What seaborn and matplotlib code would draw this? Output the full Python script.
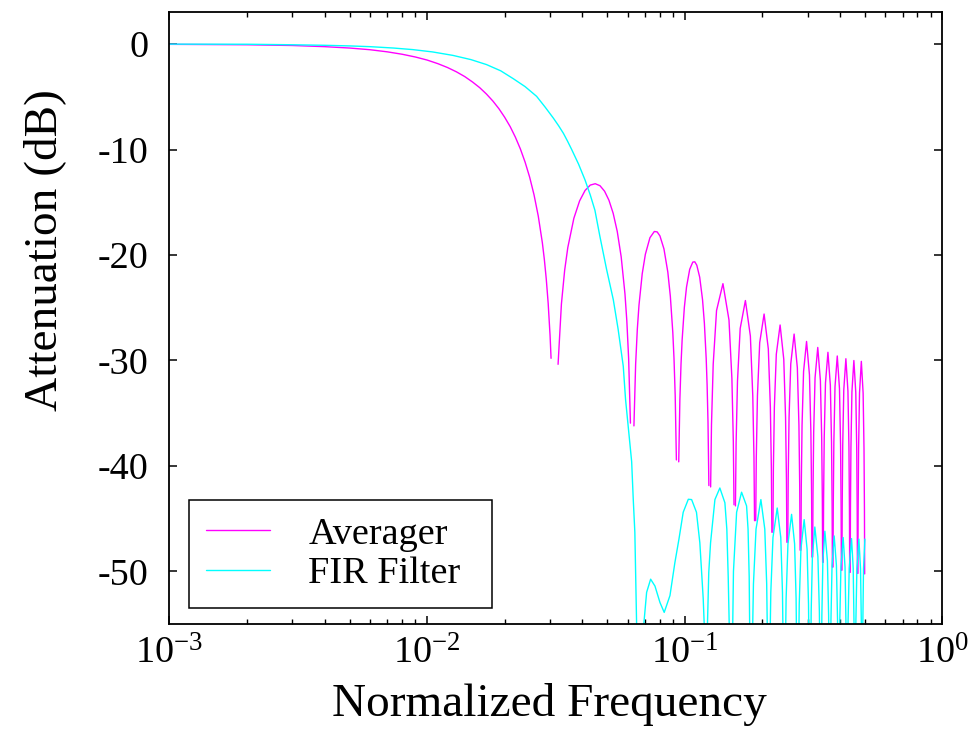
import numpy as np
import pandas as pd
import matplotlib
matplotlib.use("Agg")
import matplotlib.pyplot as plt
from matplotlib.lines import Line2D
from matplotlib.ticker import NullFormatter
import seaborn as sns

nan = float("nan")

# ---------------- data ----------------
series_names = ["Averager", "FIR Filter"]
series_colors = ["#ff00ff", "#00ffff"]

# Averager: NaN marks the exact nulls where the plotted line breaks
avg_freq = [
    0.001, 0.002, 0.003, 0.004, 0.005, 0.006, 0.007, 0.008, 0.009, 0.010,
    0.011, 0.012, 0.013, 0.014, 0.015, 0.016, 0.017, 0.018, 0.019, 0.020,
    0.021, 0.022, 0.023, 0.024, 0.025, 0.026, 0.027, 0.028, 0.0285, 0.029,
    0.0295, 0.030, 0.03027,
    0.03125,
    0.032227, 0.033203, 0.034180, 0.035156, 0.037109, 0.039063, 0.041016,
    0.042969, 0.044922, 0.046875, 0.048828, 0.050781, 0.052734, 0.054688,
    0.056641, 0.058594, 0.059570, 0.060547, 0.061523,
    0.0625,
    0.063477, 0.064453, 0.065430, 0.066406, 0.068359, 0.070313, 0.073242,
    0.076172, 0.078125, 0.080078, 0.083008, 0.085938, 0.087891, 0.089844,
    0.090820, 0.091797, 0.092773,
    0.09375,
    0.094727, 0.095703, 0.096680, 0.097656, 0.099609, 0.101563, 0.104492,
    0.107422, 0.109375, 0.111328, 0.114258, 0.117188, 0.119141, 0.121094,
    0.122070, 0.123047, 0.124023,
    0.125,
    0.12598, 0.12695, 0.12891, 0.13281, 0.14063, 0.14844, 0.15234, 0.15430, 0.15527,
    0.15625,
    0.15723, 0.15820, 0.16016, 0.16406, 0.17188, 0.17969, 0.18359, 0.18555, 0.18652,
    0.1875,
    0.18848, 0.18945, 0.19141, 0.19531, 0.20313, 0.21094, 0.21484, 0.21680, 0.21777,
    0.21875,
    0.21973, 0.22070, 0.22266, 0.22656, 0.23438, 0.24219, 0.24609, 0.24805, 0.24902,
    0.25,
    0.25098, 0.25195, 0.25391, 0.25781, 0.26563, 0.27344, 0.27734, 0.27930, 0.28027,
    0.28125,
    0.28223, 0.28320, 0.28516, 0.28906, 0.29688, 0.30469, 0.30859, 0.31055, 0.31152,
    0.3125,
    0.31348, 0.31445, 0.31641, 0.32031, 0.32813, 0.33594, 0.33984, 0.34180, 0.34277,
    0.34375,
    0.34473, 0.34570, 0.34766, 0.35156, 0.35938, 0.36719, 0.37109, 0.37305, 0.37402,
    0.375,
    0.37598, 0.37695, 0.37891, 0.38281, 0.39063, 0.39844, 0.40234, 0.40430, 0.40527,
    0.40625,
    0.40723, 0.40820, 0.41016, 0.41406, 0.42188, 0.42969, 0.43359, 0.43555, 0.43652,
    0.4375,
    0.43848, 0.43945, 0.44141, 0.44531, 0.45313, 0.46094, 0.46484, 0.46680, 0.46777,
    0.46875,
    0.46973, 0.47070, 0.47266, 0.47656, 0.48438, 0.49219, 0.49609, 0.49805, 0.49902,
]
avg_db = [
    -0.02, -0.06, -0.13, -0.24, -0.37, -0.53, -0.73, -0.96, -1.22, -1.51,
    -1.85, -2.22, -2.63, -3.08, -3.59, -4.13, -4.74, -5.40, -6.13, -6.94,
    -7.82, -8.82, -9.93, -11.19, -12.62, -14.30, -16.31, -18.83, -20.40, -22.28,
    -24.59, -27.63, -29.80,
    nan,
    -30.37, -24.65, -21.45, -19.29, -16.52, -14.87, -13.88,
    -13.37, -13.24, -13.43, -13.95, -14.81, -16.05, -17.77,
    -20.17, -23.70, -26.24, -29.83, -35.95,
    nan,
    -36.21, -30.37, -27.04, -24.77, -21.78, -19.93, -18.36,
    -17.77, -17.81, -18.19, -19.42, -21.63, -23.92, -27.34,
    -29.84, -33.38, -39.44,
    nan,
    -39.62, -33.73, -30.36, -28.05, -24.97, -23.04, -21.36,
    -20.67, -20.65, -20.97, -22.11, -24.24, -26.47, -29.84,
    -32.31, -35.83, -41.87,
    nan,
    -42.00, -36.08, -30.36, -25.27, -22.72, -26.17, -31.71, -37.67, -43.69,
    nan,
    -43.80, -37.80, -31.95, -26.97, -24.32, -27.69, -33.35, -39.20, -45.20,
    nan,
    -45.20, -39.20, -33.35, -28.32, -25.60, -28.90, -34.45, -40.30, -46.30,
    nan,
    -46.30, -40.30, -34.45, -29.41, -26.64, -29.89, -35.40, -41.25, -47.25,
    nan,
    -47.25, -41.25, -35.40, -30.32, -27.50, -30.70, -36.15, -42.00, -48.00,
    nan,
    -48.00, -42.00, -36.15, -31.05, -28.20, -31.37, -36.80, -42.65, -48.65,
    nan,
    -48.65, -42.65, -36.80, -31.65, -28.77, -31.91, -37.30, -43.15, -49.15,
    nan,
    -49.15, -43.15, -37.30, -32.14, -29.23, -32.34, -37.75, -43.60, -49.60,
    nan,
    -49.60, -43.60, -37.75, -32.51, -29.58, -32.67, -38.05, -43.90, -49.90,
    nan,
    -49.90, -43.90, -38.05, -32.80, -29.84, -32.90, -38.25, -44.10, -50.10,
    nan,
    -50.10, -44.10, -38.25, -32.99, -30.01, -33.05, -38.35, -44.20, -50.20,
    nan,
    -50.20, -44.20, -38.35, -33.09, -30.09, -33.11, -38.40, -44.25, -50.25,
]

# FIR filter
fir_freq = [
    0.001, 0.002, 0.003, 0.004, 0.005, 0.006, 0.0074, 0.0088, 0.0105, 0.0126,
    0.0148, 0.0170, 0.0193, 0.0216, 0.0240, 0.0266, 0.0287, 0.0309, 0.0324, 0.0338,
    0.0351, 0.0364, 0.0387, 0.0410, 0.0430, 0.0448, 0.0468, 0.0497, 0.0528, 0.0551,
    0.0577, 0.0589, 0.0612, 0.0622, 0.0631, 0.0640, 0.0650, 0.0656, 0.0665,
    0.0680, 0.0694, 0.0711, 0.0737, 0.0766, 0.0801, 0.0832, 0.0876, 0.0915, 0.0949,
    0.0986, 0.1032, 0.1063, 0.1110, 0.1144, 0.1179, 0.1189, 0.1200,
    0.1213, 0.1239, 0.1259, 0.1309, 0.1368, 0.1431, 0.1456, 0.1474, 0.1487, 0.1500, 0.1514,
    0.1526, 0.1545, 0.1589, 0.1661, 0.1737, 0.1760, 0.1778, 0.1790, 0.1805,
    0.1819, 0.1847, 0.1890, 0.1974, 0.2044, 0.2079, 0.2103, 0.2114,
    0.2128, 0.2157, 0.2199, 0.2284, 0.2358, 0.2394, 0.2419, 0.2431,
    0.2444, 0.2473, 0.2514, 0.2597, 0.2668, 0.2704, 0.2728, 0.2739,
    0.2752, 0.2781, 0.2823, 0.2906, 0.2983, 0.3021, 0.3047, 0.3059,
    0.3070, 0.3094, 0.3128, 0.3197, 0.3285, 0.3329, 0.3359, 0.3373,
    0.3383, 0.3404, 0.3435, 0.3497, 0.3577, 0.3616, 0.3643, 0.3656,
    0.3668, 0.3692, 0.3728, 0.3800, 0.3877, 0.3916, 0.3942, 0.3954,
    0.3967, 0.3995, 0.4036, 0.4118, 0.4187, 0.4221, 0.4244, 0.4255,
    0.4270, 0.4301, 0.4347, 0.4438, 0.4504, 0.4537, 0.4559, 0.4570,
    0.4584, 0.4612, 0.4655, 0.4739, 0.4809, 0.4844, 0.4868, 0.4879,
    0.4889, 0.4909, 0.4939, 0.5000,
]
fir_db = [
    0.00, -0.01, -0.06, -0.11, -0.17, -0.24, -0.37, -0.52, -0.74, -1.07,
    -1.47, -1.94, -2.53, -3.28, -4.03, -4.95, -5.97, -7.02, -7.75, -8.46,
    -9.22, -10.00, -11.38, -12.88, -14.33, -15.76, -18.20, -21.35, -24.25, -27.02,
    -30.54, -33.70, -37.80, -39.60, -43.20, -46.30, -54.90, -61.00, -72.00,
    -60.50, -54.90, -52.00, -50.75, -51.40, -52.96, -53.90, -52.30, -49.20, -46.96,
    -44.40, -43.17, -43.20, -44.40, -47.30, -52.60, -54.90, -70.00,
    -59.10, -50.10, -47.30, -43.20, -42.10, -43.50, -46.00, -50.50, -54.90, -60.00, -70.00,
    -59.50, -50.00, -44.40, -42.50, -43.80, -46.00, -50.50, -58.00, -70.00,
    -60.20, -51.20, -46.00, -43.20, -46.00, -51.20, -60.20, -70.00,
    -61.00, -52.00, -46.80, -44.00, -46.80, -52.00, -61.00, -70.00,
    -61.60, -52.60, -47.40, -44.60, -47.40, -52.60, -61.60, -70.00,
    -62.10, -53.10, -47.90, -45.10, -47.90, -53.10, -62.10, -70.00,
    -62.80, -53.80, -48.60, -45.80, -48.60, -53.80, -62.80, -70.00,
    -63.20, -54.20, -49.00, -46.20, -49.00, -54.20, -63.20, -70.00,
    -63.65, -54.65, -49.45, -46.65, -49.45, -54.65, -63.65, -70.00,
    -63.80, -54.80, -49.60, -46.80, -49.60, -54.80, -63.80, -70.00,
    -63.90, -54.90, -49.70, -46.90, -49.70, -54.90, -63.90, -70.00,
    -63.95, -54.95, -49.75, -46.95, -49.75, -54.95, -63.95, -70.00,
    -63.95, -54.95, -49.75, -46.95,
]

x_ticks = [1e-3, 1e-2, 1e-1, 1e0]
x_tick_labels = [r"$10^{-3}$", r"$10^{-2}$", r"$10^{-1}$", r"$10^{0}$"]
x_minor_ticks = [m * d for d in (1e-3, 1e-2, 1e-1) for m in range(2, 10)]
y_ticks = [-50, -40, -30, -20, -10, 0]
y_tick_labels = ["-50", "-40", "-30", "-20", "-10", "0"]
x_label = "Normalized Frequency"
y_label = "Attenuation (dB)"

# ---------------- style ----------------
sns.set_theme(style="ticks")
plt.rcParams.update({
    "font.family": ["Liberation Serif", "DejaVu Serif"],
    "mathtext.fontset": "custom",
    "mathtext.rm": "Liberation Serif",
    "mathtext.it": "Liberation Serif:italic",
    "mathtext.bf": "Liberation Serif:bold",
    "axes.unicode_minus": False,
    "axes.edgecolor": "black",
    "axes.labelcolor": "black",
    "text.color": "black",
    "xtick.color": "black",
    "ytick.color": "black",
})


def to_frame(freq, db, name):
    df = pd.DataFrame({"freq": freq, "db": db})
    df["seg"] = df["db"].isna().cumsum()
    df = df.dropna(subset=["db"]).copy()
    df["series"] = name
    df["unit"] = name + "-" + df["seg"].astype(str)
    return df


data = pd.concat([to_frame(avg_freq, avg_db, series_names[0]),
                  to_frame(fir_freq, fir_db, series_names[1])],
                 ignore_index=True)

fig = plt.figure(figsize=(9.7, 7.44), dpi=100)
ax = fig.add_axes([0.1747, 0.1613, 0.7969, 0.8219])
ax.set_xscale("log")

sns.lineplot(data=data, x="freq", y="db", hue="series", units="unit",
             estimator=None, hue_order=series_names,
             palette=dict(zip(series_names, series_colors)),
             linewidth=1.0, legend=False, ax=ax)

ax.set_xlim(1e-3, 1.0)
ax.set_ylim(-55, 3)

ax.set_xticks(x_ticks)
ax.set_xticklabels(x_tick_labels)
ax.set_xticks(x_minor_ticks, minor=True)
ax.xaxis.set_minor_formatter(NullFormatter())
ax.set_yticks(y_ticks)
ax.set_yticklabels(y_tick_labels)
ax.set_yticks([], minor=True)

ax.tick_params(which="both", direction="in", top=True, right=True,
               bottom=True, left=True, color="black")
ax.tick_params(which="major", length=5.5, width=1.1)
ax.tick_params(which="minor", length=3.3, width=1.0)
ax.tick_params(axis="y", which="major", pad=15, labelsize=27.5)
ax.tick_params(axis="x", which="major", pad=9, labelsize=27.5)

for sp in ax.spines.values():
    sp.set_color("black")
    sp.set_linewidth(1.3)
    sp.set_visible(True)

ax.set_xlabel(x_label, fontsize=34)
ax.xaxis.set_label_coords(0.492, -0.150)
ax.xaxis.label.set_va("baseline")
ax.set_ylabel(y_label, fontsize=34)
ax.yaxis.set_label_coords(-0.161, 0.612)
ax.yaxis.label.set_va("center")

handles = [Line2D([], [], color=c, linewidth=1.0) for c in series_colors]
leg = ax.legend(handles, series_names, loc="lower left",
                bbox_to_anchor=(0.0256, 0.0257, 0.392, 0.178), mode="expand",
                borderaxespad=0, fancybox=False, framealpha=1,
                edgecolor="black", fontsize=27.5, handlelength=1.67,
                handletextpad=1.0, borderpad=0.45, labelspacing=0.12)
leg.get_frame().set_linewidth(1.1)

fig.savefig("out.png", dpi=100)
